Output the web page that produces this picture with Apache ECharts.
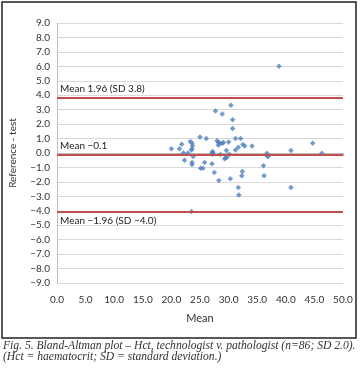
<!DOCTYPE html>
<html><head><meta charset="utf-8">
<script src="https://cdn.jsdelivr.net/npm/echarts@6/dist/echarts.min.js"></script>
<style>html,body{margin:0;padding:0;background:#fff}#c{width:362px;height:378px}</style>
</head><body><div id="c"></div>
<script>
// Mean of the two measurements (x) and difference Reference - test (y)
var meanValues = [20.0,21.4,21.8,22.1,22.9,22.3,23.3,23.6,23.7,23.6,23.5,23.8,23.6,23.6,23.5,
  25.0,26.1,25.1,25.5,25.8,27.1,27.2,27.3,27.1,27.2,27.5,27.7,28.0,28.2,28.5,28.2,28.9,29.1,28.9,
  28.3,28.6,29.3,29.5,29.7,29.6,30.0,30.1,30.3,30.4,30.7,30.7,31.2,32.1,31.2,31.7,32.5,32.8,31.7,
  31.8,32.4,32.3,34.1,36.1,36.2,36.7,36.8,36.9,38.8,40.9,40.9,44.7,46.3];
var diffValues = [0.3,0.3,0.6,0.0,0.0,-0.5,0.8,0.7,0.5,0.3,0.2,-0.25,-0.65,-0.8,-4.05,
  1.1,1.0,-1.05,-1.05,-0.65,-0.75,0.1,0.0,0.0,-0.08,-1.35,2.9,0.85,0.72,0.68,0.54,0.68,0.72,2.7,
  -1.9,-0.1,-0.4,-0.35,-0.3,0.17,0.77,-0.08,-1.78,3.3,2.3,1.7,1.0,1.0,0.2,0.4,0.58,0.48,-2.38,
  -2.9,-1.28,-1.58,0.48,-0.88,-1.58,-0.02,-0.2,-0.25,6.0,0.17,-2.38,0.68,-0.02];
var refLineValues = [3.8, -0.1, -4.1];
var refLineLabels = ['Mean 1.96 (SD 3.8)', 'Mean \u22120.1', 'Mean \u22121.96 (SD \u22124.0)'];
var captionLines = ['Fig. 5. Bland-Altman plot \u2013 Hct, technologist v. pathologist (n=86; SD 2.0).',
  '(Hct = haematocrit; SD = standard deviation.)'];
var xAxisName = 'Mean';
var yAxisName = 'Reference - test';

function fmt(v){ var s = Math.abs(v).toFixed(1); return (v < 0 ? '\u2212' : '') + s; }

var points = meanValues.map(function(x, i){ return [x, diffValues[i]]; });
var font = 'Lato';
var chart = echarts.init(document.getElementById('c'));
chart.setOption({
  animation: false,
  backgroundColor: '#fff',
  grid: {left: 56, right: 19, top: 23, bottom: 95},
  xAxis: [{
    type: 'value', min: 0, max: 50, interval: 5,
    axisLine: {show: true, onZero: true, lineStyle: {color: '#bfbfbf'}},
    axisTick: {show: true, length: 3, lineStyle: {color: '#bfbfbf'}},
    axisLabel: {show: false}, splitLine: {show: false}
  }, {
    type: 'value', min: 0, max: 50, interval: 5, position: 'bottom',
    axisLine: {show: false, onZero: false}, axisTick: {show: false}, splitLine: {show: false},
    axisLabel: {formatter: fmt, color: '#333', fontSize: 10, fontFamily: font, margin: 12},
    name: xAxisName, nameLocation: 'middle', nameGap: 30,
    nameTextStyle: {color: '#333', fontSize: 11, fontFamily: font}
  }],
  yAxis: {
    type: 'value', min: -9, max: 9, interval: 1,
    axisLine: {show: true, lineStyle: {color: '#bfbfbf'}},
    axisTick: {show: false},
    axisLabel: {formatter: fmt, color: '#333', fontSize: 10, fontFamily: font, margin: 7},
    splitLine: {lineStyle: {color: '#d9d9d9'}},
    name: yAxisName, nameLocation: 'middle', nameGap: 39, nameRotate: 90,
    nameTextStyle: {color: '#333', fontSize: 10, fontFamily: font}
  },
  series: [{
    type: 'scatter', xAxisIndex: 0, data: points,
    symbol: 'diamond', symbolSize: 5.5,
    itemStyle: {color: '#4f81bd'},
    markLine: {
      silent: true, symbol: ['none','none'], animation: false,
      data: refLineValues.map(function(v, i){
        return {yAxis: v, label: {show: true, formatter: refLineLabels[i],
          position: i === 2 ? 'insideStartBottom' : 'insideStartTop',
          color: '#222', fontSize: 10, fontFamily: font, distance: [3, 4]}};
      }),
      lineStyle: {color: '#c0504d', width: 2, type: 'solid'}
    }
  }],
  graphic: [
    {type: 'rect', shape: {x: 2, y: 2, width: 354, height: 336},
     style: {fill: 'none', stroke: '#222', lineWidth: 1.5}, silent: true, z: 100},
    {type: 'text', left: 3, top: 340,
     style: {text: captionLines[0], fill: '#333', font: 'italic 11.6px "Liberation Serif"'}},
    {type: 'text', left: 3, top: 351,
     style: {text: captionLines[1], fill: '#333', font: 'italic 11.6px "Liberation Serif"'}}
  ]
});
</script></body></html>
